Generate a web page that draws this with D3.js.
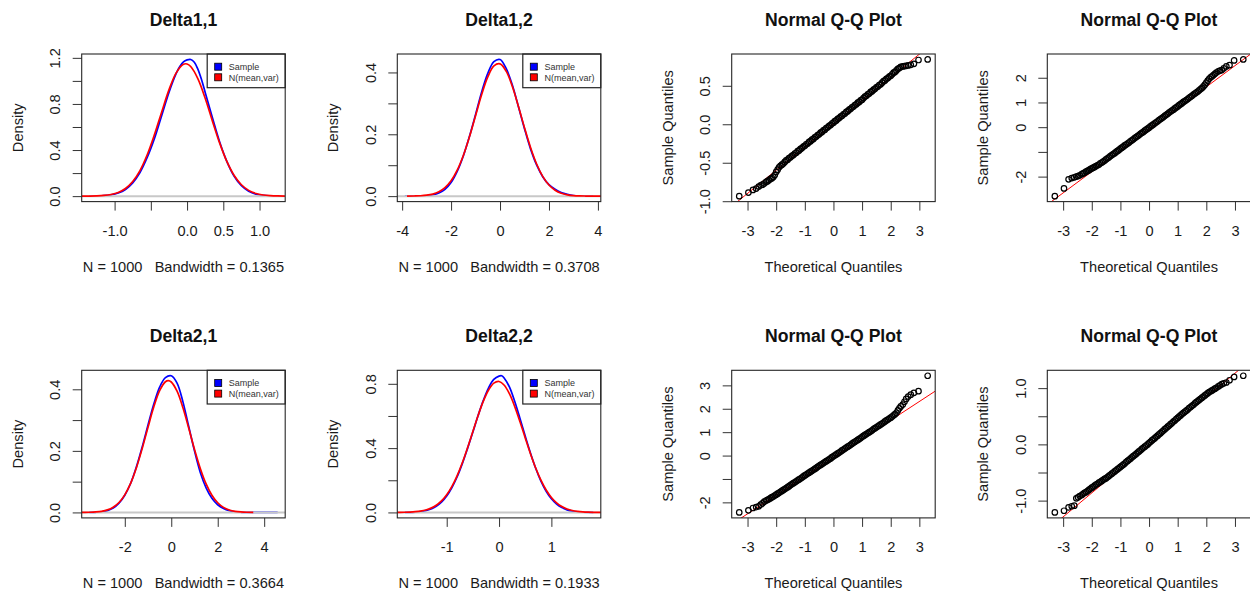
<!DOCTYPE html>
<html>
<head>
<meta charset="utf-8">
<script src="https://cdn.jsdelivr.net/npm/d3@7"></script>
<style>
  html, body { margin: 0; padding: 0; background: #fff; }
  svg { display: block; font-family: "Liberation Sans", Arial, sans-serif; }
</style>
</head>
<body>
<svg id="chart" width="1250" height="594"></svg>
<script>
/* Delta densities vs fitted normal, plus normal Q-Q plots (R base-graphics look) */

// ---- density panels -------------------------------------------------------
const densTitles = ['Delta1,1', 'Delta1,2', 'Delta2,1', 'Delta2,2'];
const densN = 1000;
const densBandwidth = ['0.1365', '0.3708', '0.3664', '0.1933'];
const legendLabels = ['Sample', 'N(mean,var)'];

// kernel density of the sample, [x, density]
const d11Sample = [[-1.35,0],[-1.25,0.0015],[-1.15,0.004],[-1.05,0.011],[-0.95,0.027],[-0.85,0.058],[-0.75,0.115],[-0.65,0.205],[-0.55,0.335],[-0.45,0.50],[-0.35,0.70],[-0.25,0.90],[-0.15,1.065],[-0.1,1.125],[-0.05,1.165],[0,1.182],[0.05,1.186],[0.1,1.162],[0.15,1.10],[0.2,1.01],[0.25,0.90],[0.35,0.68],[0.45,0.47],[0.55,0.30],[0.65,0.172],[0.75,0.09],[0.85,0.042],[0.95,0.017],[1.05,0.006],[1.15,0.002],[1.25,0]];
const d12Sample = [[-3.89,0],[-3.5,0.0001],[-3.25,0.0003],[-3.0,0.001],[-2.75,0.004],[-2.5,0.010],[-2.25,0.022],[-2.0,0.044],[-1.75,0.080],[-1.5,0.130],[-1.25,0.193],[-1.0,0.264],[-0.75,0.337],[-0.5,0.397],[-0.25,0.435],[0,0.442],[0.25,0.413],[0.5,0.360],[0.75,0.290],[1.0,0.218],[1.25,0.152],[1.5,0.100],[1.75,0.062],[2.0,0.037],[2.25,0.022],[2.5,0.012],[2.75,0.006],[3.0,0.002],[3.25,0.0005],[3.5,0.0001],[3.81,0]];
const d21Sample = [[-3.53,0],[-3.25,0.0005],[-3.0,0.002],[-2.75,0.006],[-2.5,0.014],[-2.25,0.030],[-2.0,0.056],[-1.75,0.094],[-1.5,0.148],[-1.25,0.213],[-1.0,0.284],[-0.75,0.352],[-0.5,0.407],[-0.25,0.438],[0,0.444],[0.25,0.420],[0.5,0.360],[0.75,0.280],[1.0,0.200],[1.25,0.130],[1.5,0.080],[1.75,0.046],[2.0,0.025],[2.25,0.013],[2.5,0.006],[2.75,0.002],[3.0,0.0005],[3.25,0.0002],[3.5,0.0002],[4.0,0.0001],[4.58,0]];
const d22Sample = [[-1.8,0],[-1.7,0.0005],[-1.6,0.002],[-1.5,0.005],[-1.4,0.011],[-1.3,0.021],[-1.2,0.038],[-1.1,0.064],[-1.0,0.102],[-0.9,0.155],[-0.8,0.222],[-0.7,0.305],[-0.6,0.400],[-0.5,0.500],[-0.4,0.603],[-0.3,0.697],[-0.2,0.775],[-0.1,0.827],[0,0.848],[0.05,0.850],[0.1,0.835],[0.2,0.780],[0.3,0.690],[0.4,0.585],[0.5,0.475],[0.6,0.370],[0.7,0.275],[0.8,0.195],[0.9,0.132],[1.0,0.085],[1.1,0.052],[1.2,0.030],[1.3,0.016],[1.4,0.008],[1.5,0.003],[1.6,0.001],[1.8,0]];

// fitted normal curve, [x, density]
const d11Normal = [[-1.45,0.0002],[-1.35,0.0008],[-1.25,0.0022],[-1.15,0.0058],[-1.05,0.0142],[-0.95,0.032],[-0.85,0.0663],[-0.75,0.1264],[-0.65,0.222],[-0.55,0.359],[-0.45,0.534],[-0.35,0.731],[-0.25,0.922],[-0.15,1.070],[-0.05,1.144],[0,1.147],[0.05,1.125],[0.15,1.018],[0.25,0.849],[0.35,0.651],[0.45,0.460],[0.55,0.299],[0.65,0.179],[0.75,0.0986],[0.85,0.050],[0.95,0.0233],[1.05,0.010],[1.15,0.004],[1.25,0.0014],[1.35,0.0005]];
const d12Normal = [[-3.8,0.0002],[-3.5,0.0005],[-3.25,0.0012],[-3.0,0.0030],[-2.75,0.0067],[-2.5,0.0141],[-2.25,0.0275],[-2.0,0.0498],[-1.75,0.0840],[-1.5,0.1315],[-1.25,0.1918],[-1.0,0.2602],[-0.75,0.3284],[-0.5,0.3855],[-0.25,0.4211],[0,0.4278],[0.25,0.4043],[0.5,0.3556],[0.75,0.2908],[1.0,0.2213],[1.25,0.1567],[1.5,0.1032],[1.75,0.0632],[2.0,0.0360],[2.25,0.0191],[2.5,0.0094],[2.75,0.0043],[3.0,0.0018],[3.25,0.0007],[3.5,0.0003],[3.75,0.0001],[4.2,0]];
const d21Normal = [[-3.86,0.0001],[-3.75,0.0002],[-3.5,0.0006],[-3.25,0.0016],[-3.0,0.0037],[-2.75,0.0082],[-2.5,0.0169],[-2.25,0.0322],[-2.0,0.0572],[-1.75,0.0944],[-1.5,0.1453],[-1.25,0.2079],[-1.0,0.2768],[-0.75,0.3430],[-0.5,0.3956],[-0.25,0.4245],[-0.125,0.428],[0,0.4238],[0.25,0.3939],[0.5,0.3406],[0.75,0.2741],[1.0,0.2052],[1.25,0.1430],[1.5,0.0927],[1.75,0.0560],[2.0,0.0314],[2.25,0.0164],[2.5,0.0080],[2.75,0.0036],[3.0,0.0015],[3.25,0.0006],[3.53,0.0002]];
const d22Normal = [[-1.95,0.0003],[-1.9,0.0005],[-1.8,0.0011],[-1.7,0.0023],[-1.6,0.0045],[-1.5,0.0084],[-1.4,0.0153],[-1.3,0.0267],[-1.2,0.0446],[-1.1,0.0715],[-1.0,0.1099],[-0.9,0.1619],[-0.8,0.2291],[-0.7,0.3105],[-0.6,0.4039],[-0.5,0.5037],[-0.4,0.6031],[-0.3,0.6919],[-0.2,0.7616],[-0.1,0.8042],[0,0.8143],[0.1,0.7909],[0.2,0.7367],[0.3,0.6582],[0.4,0.564],[0.5,0.4636],[0.6,0.3655],[0.7,0.2762],[0.8,0.2004],[0.9,0.1394],[1.0,0.0930],[1.1,0.0595],[1.2,0.0365],[1.3,0.0215],[1.4,0.0121],[1.5,0.0066],[1.6,0.0034],[1.7,0.0017],[1.8,0.0008],[1.9,0.0004],[1.95,0.0003]];

const densXTicks  = [[-1, -0.5, 0, 0.5, 1], [-4, -2, 0, 2, 4], [-2, 0, 2, 4], [-1, 0, 1]];
const densXLabels = [['-1.0', '', '0.0', '0.5', '1.0'], ['-4', '-2', '0', '2', '4'], ['-2', '0', '2', '4'], ['-1', '0', '1']];
const densYTicks  = [[0, 0.2, 0.4, 0.6, 0.8, 1.0, 1.2], [0, 0.1, 0.2, 0.3, 0.4], [0, 0.1, 0.2, 0.3, 0.4], [0, 0.2, 0.4, 0.6, 0.8]];
const densYLabels = [['0.0', '', '0.4', '', '0.8', '', '1.2'], ['0.0', '', '0.2', '', '0.4'], ['0.0', '', '0.2', '', '0.4'], ['0.0', '', '0.4', '', '0.8']];

// ---- Q-Q panels ------------------------------------------------------------
// theoretical quantiles shared by all four panels (n = 1000)
const qqTheoretical = [
  -3.29, -2.97, -2.81, -2.70, -2.61, -2.54, -2.48, -2.42,
  -2.35, -2.30, -2.25, -2.20, -2.15, -2.10, -2.05, -2.00, -1.95, -1.90,
  -1.85, -1.80, -1.75, -1.70, -1.65, -1.60, -1.55, -1.50, -1.45, -1.40,
  -1.35, -1.30, -1.25, -1.20, -1.15, -1.10, -1.05, -1.00, -0.95, -0.90,
  -0.85, -0.80, -0.75, -0.70, -0.65, -0.60, -0.55, -0.50, -0.45, -0.40,
  -0.35, -0.30, -0.25, -0.20, -0.15, -0.10, -0.05, 0.00, 0.05, 0.10,
  0.15, 0.20, 0.25, 0.30, 0.35, 0.40, 0.45, 0.50, 0.55, 0.60,
  0.65, 0.70, 0.75, 0.80, 0.85, 0.90, 0.95, 1.00, 1.05, 1.10,
  1.15, 1.20, 1.25, 1.30, 1.35, 1.40, 1.45, 1.50, 1.55, 1.60,
  1.65, 1.70, 1.75, 1.80, 1.85, 1.90, 1.95, 2.00, 2.05, 2.10,
  2.15, 2.20, 2.25, 2.30, 2.35,
  2.42, 2.48, 2.54, 2.61, 2.70, 2.81, 2.97, 3.29
];
const qq11Sample = [
  -0.934, -0.888, -0.853, -0.836, -0.81, -0.795, -0.785, -0.77,
  -0.75, -0.74, -0.725, -0.71, -0.70, -0.685, -0.66, -0.62, -0.59, -0.56,
  -0.54, -0.525, -0.51, -0.49, -0.47, -0.46, -0.44, -0.43, -0.41, -0.40,
  -0.38, -0.37, -0.35, -0.34, -0.32, -0.31, -0.29, -0.28, -0.26, -0.25,
  -0.23, -0.22, -0.20, -0.19, -0.17, -0.16, -0.14, -0.13, -0.11, -0.10,
  -0.08, -0.07, -0.05, -0.04, -0.02, -0.01, 0.01, 0.02, 0.04, 0.05,
  0.07, 0.08, 0.10, 0.11, 0.13, 0.14, 0.16, 0.17, 0.19, 0.20,
  0.22, 0.23, 0.25, 0.26, 0.28, 0.29, 0.31, 0.32, 0.34, 0.36,
  0.37, 0.39, 0.40, 0.42, 0.43, 0.45, 0.46, 0.48, 0.49, 0.51,
  0.52, 0.54, 0.56, 0.57, 0.59, 0.60, 0.62, 0.63, 0.65, 0.67,
  0.68, 0.70, 0.72, 0.73, 0.745,
  0.752, 0.756, 0.76, 0.765, 0.772, 0.785, 0.835, 0.842
];
const qq12Sample = [
  -2.79, -2.48, -2.11, -2.06, -2.03, -2.00, -1.98, -1.95,
  -1.90, -1.87, -1.84, -1.80, -1.77, -1.74, -1.70, -1.67, -1.64, -1.61,
  -1.57, -1.54, -1.51, -1.46, -1.43, -1.39, -1.35, -1.30, -1.26, -1.22,
  -1.17, -1.13, -1.09, -1.05, -1.00, -0.96, -0.92, -0.87, -0.83, -0.79,
  -0.74, -0.70, -0.66, -0.62, -0.57, -0.53, -0.49, -0.44, -0.40, -0.36,
  -0.32, -0.27, -0.23, -0.19, -0.14, -0.10, -0.06, -0.02, 0.03, 0.07,
  0.11, 0.16, 0.20, 0.24, 0.29, 0.33, 0.37, 0.41, 0.46, 0.50,
  0.54, 0.59, 0.63, 0.67, 0.71, 0.76, 0.80, 0.84, 0.89, 0.93,
  0.97, 1.02, 1.06, 1.10, 1.14, 1.19, 1.23, 1.27, 1.32, 1.36,
  1.40, 1.44, 1.49, 1.54, 1.59, 1.65, 1.72, 1.80, 1.88, 1.96,
  2.02, 2.06, 2.11, 2.16, 2.21,
  2.26, 2.29, 2.31, 2.38, 2.46, 2.51, 2.70, 2.74
];
const qq21Sample = [
  -2.43, -2.34, -2.24, -2.20, -2.17, -2.10, -2.04, -1.97,
  -1.92, -1.89, -1.86, -1.82, -1.78, -1.75, -1.71, -1.67, -1.63, -1.59,
  -1.55, -1.51, -1.47, -1.43, -1.39, -1.35, -1.31, -1.26, -1.22, -1.18,
  -1.14, -1.10, -1.06, -1.02, -0.98, -0.94, -0.89, -0.85, -0.81, -0.77,
  -0.73, -0.69, -0.65, -0.61, -0.57, -0.53, -0.48, -0.44, -0.40, -0.36,
  -0.32, -0.28, -0.24, -0.20, -0.16, -0.12, -0.07, -0.03, 0.01, 0.05,
  0.09, 0.13, 0.17, 0.22, 0.26, 0.30, 0.34, 0.38, 0.42, 0.46,
  0.51, 0.55, 0.59, 0.63, 0.67, 0.71, 0.75, 0.80, 0.84, 0.88,
  0.92, 0.96, 1.00, 1.04, 1.08, 1.13, 1.17, 1.21, 1.25, 1.29,
  1.33, 1.37, 1.41, 1.46, 1.50, 1.54, 1.58, 1.62, 1.67, 1.72,
  1.77, 1.83, 1.93, 2.02, 2.10,
  2.18, 2.30, 2.42, 2.52, 2.60, 2.68, 2.75, 3.41
];
const qq22Sample = [
  -1.21, -1.18, -1.12, -1.10, -1.09, -0.96, -0.94, -0.92,
  -0.90, -0.88, -0.86, -0.85, -0.83, -0.81, -0.79, -0.77, -0.755, -0.735,
  -0.715, -0.70, -0.68, -0.665, -0.65, -0.63, -0.615, -0.60, -0.58, -0.56,
  -0.54, -0.52, -0.50, -0.48, -0.46, -0.44, -0.42, -0.40, -0.38, -0.36,
  -0.34, -0.315, -0.295, -0.275, -0.255, -0.23, -0.21, -0.19, -0.17, -0.145,
  -0.125, -0.105, -0.08, -0.06, -0.04, -0.02, 0.00, 0.025, 0.045, 0.07,
  0.09, 0.11, 0.135, 0.155, 0.18, 0.20, 0.225, 0.245, 0.27, 0.29,
  0.315, 0.335, 0.36, 0.38, 0.405, 0.425, 0.45, 0.47, 0.495, 0.515,
  0.54, 0.56, 0.58, 0.60, 0.62, 0.645, 0.665, 0.685, 0.705, 0.73,
  0.75, 0.77, 0.79, 0.81, 0.83, 0.85, 0.87, 0.89, 0.91, 0.93,
  0.945, 0.96, 0.975, 0.99, 1.005,
  1.03, 1.05, 1.07, 1.085, 1.10, 1.14, 1.20, 1.22
];
// qqline: [intercept, slope]
const qqLines = [[0.006, 0.3016], [-0.085, 0.858], [-0.09, 0.80], [-0.012, 0.4255]];

const qqXTicks  = [-3, -2, -1, 0, 1, 2, 3];
const qqYTicks  = [[-1, -0.5, 0, 0.5], [-2, -1, 0, 1, 2], [-2, -1, 0, 1, 2, 3], [-1, -0.5, 0, 0.5, 1]];
const qqYLabels = [['-1.0', '-0.5', '0.0', '0.5'], ['-2', '', '0', '1', '2'], ['-2', '', '0', '1', '2', '3'], ['-1.0', '', '0.0', '', '1.0']];

(function () {
  'use strict';

  // plot-region boxes (R mfrow 2 x 4)
  const COL_X = [81.7, 397.3, 731.7, 1047.3];
  const ROW_Y = [54, 370.3];
  const BOX_W = 203.5, BOX_H = 147.6;

  const INK = '#1a1a1a';
  const FONT = 14.6;

  const svg = d3.select('#chart');
  let clipId = 0;

  // R default axis style: extend the data range by 4% on each side
  const pad = ext => { const r = ext[1] - ext[0]; return [ext[0] - 0.04 * r, ext[1] + 0.04 * r]; };

  function panel(col, row) {
    const g = svg.append('g').attr('transform', `translate(${COL_X[col]},${ROW_Y[row]})`);
    const id = 'clip' + (clipId++);
    g.append('clipPath').attr('id', id)
      .append('rect').attr('width', BOX_W).attr('height', BOX_H);
    const plot = g.append('g').attr('clip-path', `url(#${id})`);
    return { g, plot };
  }

  function axesAndLabels(g, x, y, xt, xl, yt, yl, title, xlab, ylab) {
    const xa = g.append('g').attr('transform', `translate(0,${BOX_H})`)
      .call(d3.axisBottom(x).tickValues(xt).tickFormat((d, i) => xl[i]).tickSize(9).tickSizeOuter(0));
    const ya = g.append('g')
      .call(d3.axisLeft(y).tickValues(yt).tickFormat((d, i) => yl[i]).tickSize(9).tickSizeOuter(0));
    [xa, ya].forEach(a => {
      a.select('.domain').remove();
      a.selectAll('line').attr('stroke', '#333');
      a.selectAll('text').attr('fill', INK)
        .attr('font-size', FONT).attr('font-family', '"Liberation Sans", Arial, sans-serif');
    });
    xa.selectAll('text').attr('y', 34.3).attr('dy', 0);
    ya.selectAll('text')
      .attr('transform', 'rotate(-90)')
      .attr('x', 0).attr('y', -21.5).attr('dy', 0)
      .attr('text-anchor', 'middle');

    // frame
    g.append('rect').attr('width', BOX_W).attr('height', BOX_H)
      .attr('fill', 'none').attr('stroke', '#262626').attr('stroke-width', 1.1);

    g.append('text').attr('x', BOX_W / 2).attr('y', -28.5)
      .attr('text-anchor', 'middle').attr('font-weight', 700)
      .attr('font-size', 17.6).attr('fill', '#111').text(title);
    g.append('text').attr('x', BOX_W / 2).attr('y', BOX_H + 70.6)
      .attr('text-anchor', 'middle').attr('font-size', FONT).attr('fill', INK)
      .style('white-space', 'pre').text(xlab);
    g.append('text')
      .attr('transform', `translate(-59,${BOX_H / 2}) rotate(-90)`)
      .attr('text-anchor', 'middle').attr('font-size', FONT).attr('fill', INK)
      .text(ylab);
  }

  function drawDensity(i, sample, normal, col, row) {
    const { g, plot } = panel(col, row);
    const x = d3.scaleLinear().domain(pad(d3.extent(sample, d => d[0]))).range([0, BOX_W]);
    const y = d3.scaleLinear().domain(pad([0, d3.max(sample, d => d[1])])).range([BOX_H, 0]);
    const line = d3.line().x(d => x(d[0])).y(d => y(d[1])).curve(d3.curveCatmullRom);

    plot.append('path').datum(sample).attr('d', line)
      .attr('fill', 'none').attr('stroke', '#0000FF').attr('stroke-width', 1.7);
    // zero line (drawn over the sample curve, as plot.density does)
    plot.append('line').attr('x1', 0).attr('x2', BOX_W)
      .attr('y1', y(0)).attr('y2', y(0))
      .attr('stroke', '#C8C8C8').attr('stroke-width', 2);
    plot.append('path').datum(normal).attr('d', line)
      .attr('fill', 'none').attr('stroke', '#FF0000').attr('stroke-width', 1.7);

    // legend, top right
    const lw = 78, lh = 33.7;
    const lg = g.append('g').attr('transform', `translate(${BOX_W - lw},0)`);
    lg.append('rect').attr('width', lw).attr('height', lh)
      .attr('fill', '#fff').attr('stroke', '#222').attr('stroke-width', 1.2);
    ['#0000FF', '#FF0000'].forEach((c, k) => {
      const cy = 12.7 + k * 10.6;
      lg.append('rect').attr('x', 7.5).attr('y', cy - 3.5).attr('width', 7).attr('height', 7)
        .attr('fill', c).attr('stroke', '#000').attr('stroke-width', 0.8);
      lg.append('text').attr('x', 21.6).attr('y', cy + 3.2)
        .attr('font-size', 9).attr('fill', '#333').text(legendLabels[k]);
    });

    axesAndLabels(g, x, y, densXTicks[i], densXLabels[i], densYTicks[i], densYLabels[i],
      densTitles[i], `N = ${densN}   Bandwidth = ${densBandwidth[i]}`, 'Density');
  }

  function drawQQ(i, sample, col, row) {
    const { g, plot } = panel(col, row);
    const x = d3.scaleLinear().domain(pad(d3.extent(qqTheoretical))).range([0, BOX_W]);
    const y = d3.scaleLinear().domain(pad(d3.extent(sample))).range([BOX_H, 0]);
    const pts = qqTheoretical.map((t, k) => [t, sample[k]]).filter(d => d[1] !== undefined);

    g.append('g').selectAll('circle').data(pts).join('circle')
      .attr('cx', d => x(d[0])).attr('cy', d => y(d[1])).attr('r', 2.75)
      .attr('fill', 'none').attr('stroke', '#000').attr('stroke-width', 1.2);

    const [a, b] = qqLines[i];
    const xd = x.domain();
    plot.append('line')
      .attr('x1', x(xd[0])).attr('y1', y(a + b * xd[0]))
      .attr('x2', x(xd[1])).attr('y2', y(a + b * xd[1]))
      .attr('stroke', '#FF0000').attr('stroke-width', 1);

    axesAndLabels(g, x, y, qqXTicks, qqXTicks.map(String), qqYTicks[i], qqYLabels[i],
      'Normal Q-Q Plot', 'Theoretical Quantiles', 'Sample Quantiles');
  }

  drawDensity(0, d11Sample, d11Normal, 0, 0);
  drawDensity(1, d12Sample, d12Normal, 1, 0);
  drawDensity(2, d21Sample, d21Normal, 0, 1);
  drawDensity(3, d22Sample, d22Normal, 1, 1);

  drawQQ(0, qq11Sample, 2, 0);
  drawQQ(1, qq12Sample, 3, 0);
  drawQQ(2, qq21Sample, 2, 1);
  drawQQ(3, qq22Sample, 3, 1);
})();
</script>
</body>
</html>
